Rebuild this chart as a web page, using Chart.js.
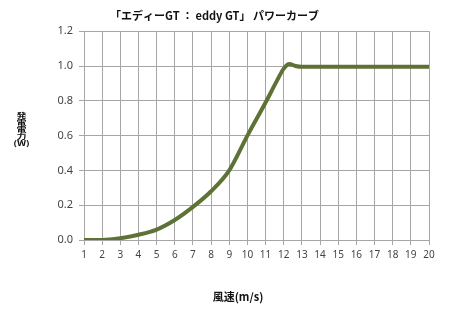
<!DOCTYPE html>
<html lang="ja">

<head>
    <meta charset="UTF-8">
    <title>エディーGT パワーカーブ</title>
    <script src="https://cdn.jsdelivr.net/npm/chart.js"></script>
    <style>
        html, body { margin: 0; padding: 0; background: #fff; }
        #wrap { width: 450px; height: 333px; }
    </style>
</head>

<body>
    <div id="wrap"><canvas id="myChart" width="450" height="333"></canvas></div>
</body>
<script>
    // wind speed (m/s) and generated power
    const windSpeed = [1, 2, 3, 4, 5, 6, 7, 8, 9, 10, 11, 11.6, 12, 12.3, 12.65, 13, 14, 15, 16, 17, 18, 19, 20];
    const power = [0, 0, 0.01, 0.03, 0.06, 0.115, 0.19, 0.28, 0.4, 0.6, 0.79, 0.91, 0.985, 1.012, 1.0, 0.995, 0.995, 0.995, 0.995, 0.995, 0.995, 0.995, 0.995];

    const chartTitle = '「エディーGT ： eddy GT」 パワーカーブ';
    const xTitle = '風速(m/s)';
    const yTitleChars = ['発', '電', '電', '力', '(W)'];

    const gridColor = '#a6a6a6';
    const tickFont = { family: 'Noto Sans', size: 10 };

    // axis titles: the y one is written top-to-bottom, one squashed character per row
    const axisTitles = {
        id: 'axisTitles',
        afterDraw(chart) {
            const ctx = chart.ctx;
            ctx.save();
            ctx.fillStyle = '#111';
            ctx.textAlign = 'center';
            ctx.textBaseline = 'middle';
            ctx.font = 'bold 11px "Noto Sans CJK JP"';
            ctx.fillText(xTitle, 238, 297);
            ctx.font = 'bold 10px "Noto Sans CJK JP"';
            yTitleChars.forEach((c, i) => {
                ctx.save();
                ctx.translate(21.5, 115 + i * 7.2);
                ctx.scale(1, 0.7);
                ctx.fillText(c, 0, 0);
                ctx.restore();
            });
            ctx.restore();
        }
    };

    const ctx = document.getElementById('myChart').getContext('2d');
    new Chart(ctx, {
        type: 'line',
        data: {
            datasets: [{
                data: windSpeed.map((x, i) => ({ x: x, y: power[i] })),
                borderColor: '#5e7236',
                borderWidth: 4,
                pointRadius: 0,
                cubicInterpolationMode: 'monotone',
                fill: false
            }]
        },
        options: {
            responsive: false,
            animation: false,
            layout: { padding: { left: 0, right: 21, top: 0, bottom: 0 } },
            plugins: {
                legend: { display: false },
                tooltip: { enabled: false },
                title: {
                    display: true,
                    text: chartTitle,
                    color: '#111',
                    font: { family: 'Noto Sans CJK JP', size: 11, weight: 'bold' },
                    padding: { top: 9, bottom: 9 }
                }
            },
            scales: {
                x: {
                    type: 'linear',
                    min: 1,
                    max: 20,
                    afterFit(scale) { scale.height = 93; },
                    border: { color: gridColor },
                    grid: { color: gridColor, tickLength: 5 },
                    ticks: { stepSize: 1, color: '#444', font: tickFont, padding: 4, maxRotation: 0 }
                },
                y: {
                    min: 0,
                    max: 1.2,
                    afterFit(scale) { scale.width = 84; },
                    border: { color: gridColor },
                    grid: { color: gridColor, tickLength: 5 },
                    ticks: {
                        stepSize: 0.2,
                        color: '#444',
                        font: { family: 'Noto Sans', size: 11 },
                        padding: 6,
                        callback: v => v.toFixed(1)
                    }
                }
            }
        },
        plugins: [axisTitles]
    });
</script>

</html>
